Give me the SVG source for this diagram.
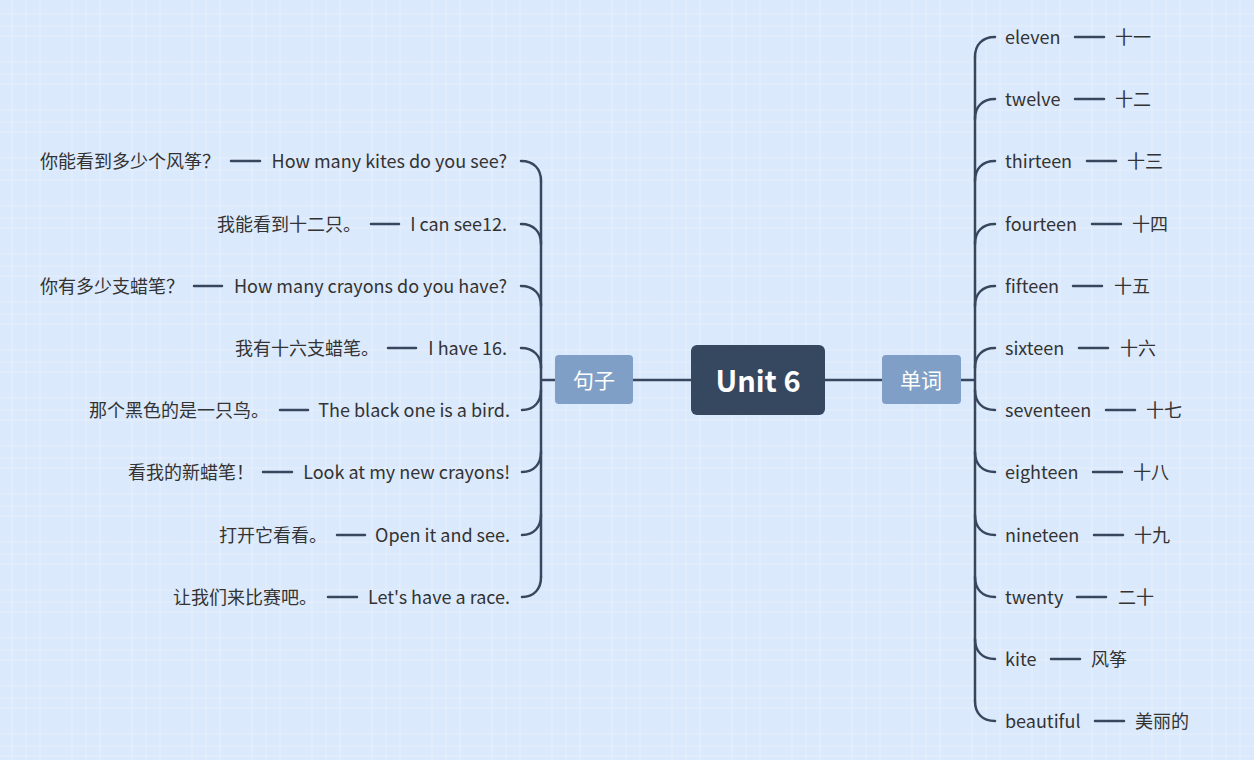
<svg xmlns="http://www.w3.org/2000/svg" width="1254" height="760" viewBox="0 0 1254 760">
<defs>
<pattern id="grid" width="60" height="48" patternUnits="userSpaceOnUse">
<rect width="60" height="48" fill="#dbe9fc"/>
<path d="M12 0V48M40 0V48M0 14H60M0 36H60" stroke="#ffffff" stroke-opacity="0.28" stroke-width="1.2"/>
<path d="M26 0V48M0 26H60" stroke="#ffffff" stroke-opacity="0.15" stroke-width="2"/>
</pattern>
</defs>
<style>
.t{font-family:"Noto Sans CJK SC","Noto Sans",sans-serif;font-size:18px;fill:#333333}
.e{text-anchor:end}
.ln{stroke:#37475e;stroke-width:2.5;fill:none;stroke-linecap:round}
.ctr{fill:#364760}
.sub{fill:#809fc6}
.wt{font-family:"Noto Sans CJK SC","Noto Sans",sans-serif;fill:#ffffff;text-anchor:middle}
</style>
<rect width="1254" height="760" fill="url(#grid)"/>
<g id="connectors">
<path class="ln" stroke-width="3" d="M633 380H691M825 380H882"/>
<path class="ln" d="M961 380H975M975 57V701"/>
<path class="ln" d="M975 57C975 45 982 37 995 37M975 119C975 107 982 99 995 99M975 181C975 169 982 161 995 161M975 244C975 232 982 224 995 224M975 306C975 294 982 286 995 286M975 368C975 356 982 348 995 348M975 390C975 402 982 410 995 410M975 452C975 464 982 472 995 472M975 515C975 527 982 535 995 535M975 577C975 589 982 597 995 597M975 639C975 651 982 659 995 659M975 701C975 713 982 721 995 721"/>
<path class="ln" d="M555 380H541M541 181V577"/>
<path class="ln" d="M541 181C541 169 534 161 521 161M541 244C541 232 534 224 521 224M541 306C541 294 534 286 521 286M541 368C541 356 534 348 521 348M541 390C541 402 534 410 522 410M541 452C541 464 534 472 522 472M541 515C541 527 534 535 522 535M541 577C541 589 534 597 522 597"/>
<path class="ln" d="M1075 37H1104M1075 99H1104M1087 161H1116M1092 224H1121M1073 286H1102M1079 348H1108M1106 410H1135M1093 472H1122M1094 535H1123M1077 597H1106M1051 659H1080M1095 721H1124"/>
<path class="ln" d="M231 161H260M371 224H399M194 286H222M388 348H416M280 410H308M263 472H292M337 535H365M328 597H357"/>
</g>
<g id="center">
<rect class="ctr" x="691" y="345" width="134" height="70" rx="6"/>
<text class="wt" x="758" y="392" font-size="29" font-weight="bold">Unit 6</text>
</g>
<g id="sentences">
<rect class="sub" x="555" y="355" width="78" height="49" rx="4"/>
<text class="wt" x="594" y="388" font-size="21">句子</text>
</g>
<g id="words">
<rect class="sub" x="882" y="355" width="79" height="49" rx="4"/>
<text class="wt" x="921" y="388" font-size="21">单词</text>
</g>
<g id="word-items">
<text class="t" x="1005" y="44">eleven</text><text class="t" x="1115" y="44">十一</text>
<text class="t" x="1005" y="106">twelve</text><text class="t" x="1115" y="106">十二</text>
<text class="t" x="1005" y="168">thirteen</text><text class="t" x="1127" y="168">十三</text>
<text class="t" x="1005" y="231">fourteen</text><text class="t" x="1132" y="231">十四</text>
<text class="t" x="1005" y="293">fifteen</text><text class="t" x="1114" y="293">十五</text>
<text class="t" x="1005" y="355">sixteen</text><text class="t" x="1120" y="355">十六</text>
<text class="t" x="1005" y="417">seventeen</text><text class="t" x="1146" y="417">十七</text>
<text class="t" x="1005" y="479">eighteen</text><text class="t" x="1133" y="479">十八</text>
<text class="t" x="1005" y="542">nineteen</text><text class="t" x="1134" y="542">十九</text>
<text class="t" x="1005" y="604">twenty</text><text class="t" x="1118" y="604">二十</text>
<text class="t" x="1005" y="666">kite</text><text class="t" x="1091" y="666">风筝</text>
<text class="t" x="1005" y="728">beautiful</text><text class="t" x="1135" y="728">美丽的</text>
</g>
<g id="sentence-items">
<text class="t" x="40" y="168">你能看到多少个风筝？</text><text class="t e" x="507" y="168">How many kites do you see?</text>
<text class="t" x="217" y="231">我能看到十二只。</text><text class="t e" x="507" y="231">I can see12.</text>
<text class="t" x="40" y="293">你有多少支蜡笔？</text><text class="t e" x="507" y="293">How many crayons do you have?</text>
<text class="t" x="235" y="355">我有十六支蜡笔。</text><text class="t e" x="507" y="355">I have 16.</text>
<text class="t" x="89" y="417">那个黑色的是一只鸟。</text><text class="t e" x="510" y="417">The black one is a bird.</text>
<text class="t" x="128" y="479">看我的新蜡笔！</text><text class="t e" x="510" y="479">Look at my new crayons!</text>
<text class="t" x="219" y="542">打开它看看。</text><text class="t e" x="510" y="542">Open it and see.</text>
<text class="t" x="173" y="604">让我们来比赛吧。</text><text class="t e" x="510" y="604">Let's have a race.</text>
</g>
</svg>
